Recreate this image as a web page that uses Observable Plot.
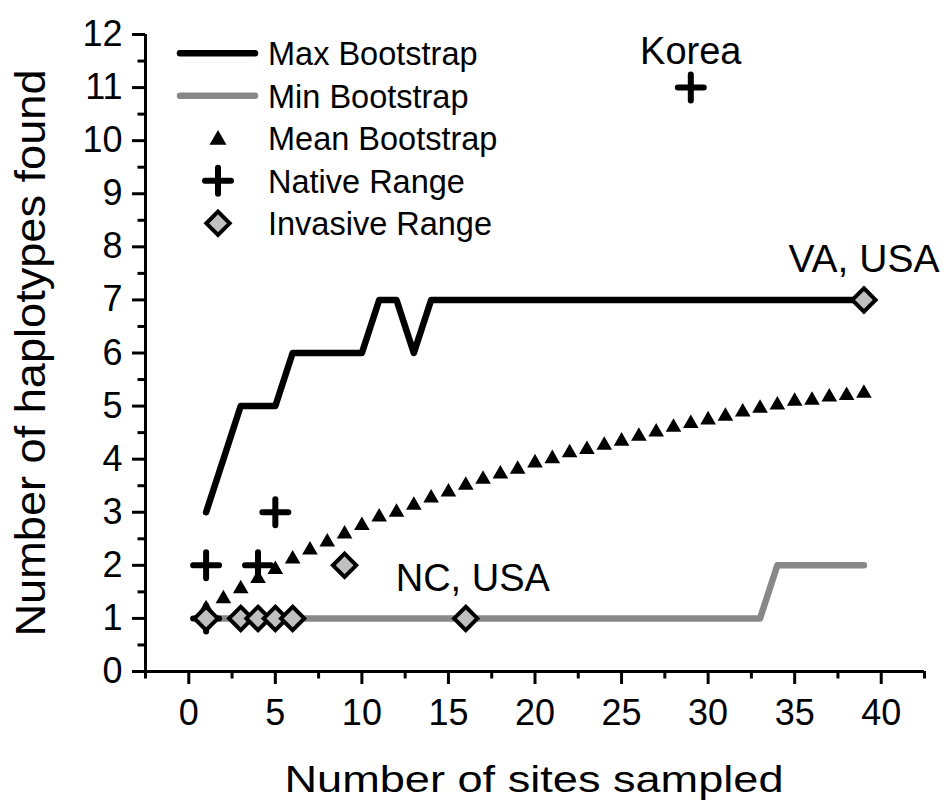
<!DOCTYPE html>
<html>
<head>
<meta charset="utf-8">
<script src="https://cdn.jsdelivr.net/npm/d3@7"></script>
<script src="https://cdn.jsdelivr.net/npm/@observablehq/plot@0.6"></script>
<style>
  html, body { margin: 0; padding: 0; background: #fff; }
  #chart { width: 946px; height: 804px; }
</style>
</head>
<body>
<div id="chart"></div>
<script>
// Number of sites sampled (bootstrap resampling sizes)
const sites = [1, 2, 3, 4, 5, 6, 7, 8, 9, 10, 11, 12, 13, 14, 15, 16, 17, 18, 19, 20,
               21, 22, 23, 24, 25, 26, 27, 28, 29, 30, 31, 32, 33, 34, 35, 36, 37, 38, 39];

// Haplotypes found per bootstrap draw
const maxBootstrap = [3, 4, 5, 5, 5, 6, 6, 6, 6, 6, 7, 7, 6, 7, 7, 7, 7, 7, 7, 7,
                      7, 7, 7, 7, 7, 7, 7, 7, 7, 7, 7, 7, 7, 7, 7, 7, 7, 7, 7];
const minBootstrap = [1, 1, 1, 1, 1, 1, 1, 1, 1, 1, 1, 1, 1, 1, 1, 1, 1, 1, 1, 1,
                      1, 1, 1, 1, 1, 1, 1, 1, 1, 1, 1, 1, 1, 2, 2, 2, 2, 2, 2];
const meanBootstrap = [1.18, 1.37, 1.56, 1.75, 1.92, 2.12, 2.29, 2.44, 2.59, 2.75,
                       2.91, 3.00, 3.13, 3.27, 3.38, 3.51, 3.62, 3.72, 3.81, 3.93,
                       4.01, 4.12, 4.18, 4.26, 4.34, 4.43, 4.51, 4.60, 4.67, 4.74,
                       4.81, 4.89, 4.96, 5.02, 5.09, 5.11, 5.17, 5.20, 5.24];

// Observed populations
const nativeSites = [1, 1, 4, 5, 29];
const nativeHaplotypes = [1, 2, 2, 3, 11];
const invasiveSites = [1, 3, 4, 5, 6, 16, 9, 39];
const invasiveHaplotypes = [1, 1, 1, 1, 1, 1, 2, 7];

// Named populations
const placeNames = ["Korea", "VA, USA", "NC, USA"];
const placeSites = [29, 39, 16];
const placeHaplotypes = [11, 7, 1];

// Axis ticks
const xTicks = [0, 5, 10, 15, 20, 25, 30, 35, 40];
const xMinorTicks = [-2.5, 2.5, 7.5, 12.5, 17.5, 22.5, 27.5, 32.5, 37.5, 42.5];
const yTicks = [0, 1, 2, 3, 4, 5, 6, 7, 8, 9, 10, 11, 12];
const yMinorTicks = [0.5, 1.5, 2.5, 3.5, 4.5, 5.5, 6.5, 7.5, 8.5, 9.5, 10.5, 11.5];

const legendLabels = ["Max Bootstrap", "Min Bootstrap", "Mean Bootstrap", "Native Range", "Invasive Range"];

// ---- layout & styling ----
const FONT = "'Liberation Sans', Arial, Helvetica, sans-serif";
const W = 946, H = 804;
const M = {left: 145, right: 22, top: 34, bottom: 133};
const X_DOMAIN = [-2.5, 42.5], Y_DOMAIN = [0, 12];
const GRAY_LINE = "#888888";
const DIAMOND_FILL = "#c0c0c0";
const LINE_W = 6.5, AXIS_W = 3;
const TRI_R = 5.8, PLUS_R = 8.4, DIAMOND_R = 10.5;
const PLUS_W = 6, DIAMOND_W = 4;
const MAJOR_LEN = 13, MINOR_LEN = 7.5;   // tick lengths in px
const placeOffsets = [
  {dx: 0, dy: -36, fontSize: 38},
  {dx: 0, dy: -40, fontSize: 39},
  {dx: 7, dy: -40, fontSize: 38}
];

// px per data unit, used to express outward tick lengths along each axis
const xUnit = (W - M.left - M.right) / (X_DOMAIN[1] - X_DOMAIN[0]);
const yUnit = (H - M.top - M.bottom) / (Y_DOMAIN[1] - Y_DOMAIN[0]);
const x0 = X_DOMAIN[0], y0 = Y_DOMAIN[0];

const series = (ys) => ys.map((y, i) => ({x: sites[i], y}));
const maxData = series(maxBootstrap);
const minData = series(minBootstrap);
const meanData = series(meanBootstrap);
const nativeData = nativeSites.map((x, i) => ({x, y: nativeHaplotypes[i]}));
const invasiveData = invasiveSites.map((x, i) => ({x, y: invasiveHaplotypes[i]}));
const placeData = placeNames.map((name, i) => ({name, x: placeSites[i], y: placeHaplotypes[i]}));

const chart = Plot.plot({
  width: W,
  height: H,
  marginLeft: M.left,
  marginRight: M.right,
  marginTop: M.top,
  marginBottom: M.bottom,
  x: {domain: X_DOMAIN, axis: null},
  y: {domain: Y_DOMAIN, axis: null},
  style: {fontFamily: FONT, background: "white", color: "black", overflow: "visible"},
  marks: [
    // axis lines
    Plot.ruleY([y0], {x1: X_DOMAIN[0], x2: X_DOMAIN[1], stroke: "black", strokeWidth: AXIS_W}),
    Plot.ruleX([x0], {y1: Y_DOMAIN[0], y2: Y_DOMAIN[1], stroke: "black", strokeWidth: AXIS_W}),
    // x ticks (outward, below the axis)
    Plot.ruleX(xMinorTicks, {x: d => d, y1: y0, y2: y0 - MINOR_LEN / yUnit, stroke: "black", strokeWidth: AXIS_W}),
    Plot.ruleX(xTicks, {x: d => d, y1: y0, y2: y0 - MAJOR_LEN / yUnit, stroke: "black", strokeWidth: AXIS_W}),
    Plot.text(xTicks, {x: d => d, y: y0, text: d => String(d), dy: 42, fontSize: 36, fill: "black"}),
    // y ticks (outward, left of the axis)
    Plot.ruleY(yMinorTicks, {y: d => d, x1: x0, x2: x0 - MINOR_LEN / xUnit, stroke: "black", strokeWidth: AXIS_W}),
    Plot.ruleY(yTicks, {y: d => d, x1: x0, x2: x0 - MAJOR_LEN / xUnit, stroke: "black", strokeWidth: AXIS_W}),
    Plot.text(yTicks, {x: x0, y: d => d, text: d => String(d), dx: -23, textAnchor: "end", fontSize: 36, fill: "black"}),
    // bootstrap curves
    Plot.line(minData, {x: "x", y: "y", stroke: GRAY_LINE, strokeWidth: LINE_W,
      strokeLinejoin: "round", strokeLinecap: "round"}),
    Plot.line(maxData, {x: "x", y: "y", stroke: "black", strokeWidth: LINE_W,
      strokeLinejoin: "round", strokeLinecap: "round"}),
    Plot.dot(meanData, {x: "x", y: "y", symbol: "triangle", r: TRI_R, fill: "black", stroke: "none"}),
    // observed ranges
    Plot.dot(nativeData, {x: "x", y: "y", symbol: "plus", r: PLUS_R, stroke: "black",
      strokeWidth: PLUS_W, strokeLinecap: "round"}),
    Plot.dot(invasiveData, {x: "x", y: "y", symbol: "diamond2", r: DIAMOND_R, fill: DIAMOND_FILL,
      stroke: "black", strokeWidth: DIAMOND_W}),
    // population names
    ...placeData.map((d, i) => Plot.text([d], {
      x: "x", y: "y", text: "name", textAnchor: "middle",
      dx: placeOffsets[i].dx, dy: placeOffsets[i].dy, fontSize: placeOffsets[i].fontSize, fill: "black"
    }))
  ]
});

const svg = d3.select(chart);

// axis titles
svg.append("text")
  .attr("transform", "translate(534,792)")
  .attr("text-anchor", "middle")
  .attr("font-family", FONT)
  .attr("font-size", 37)
  .attr("textLength", 499)
  .attr("lengthAdjust", "spacingAndGlyphs")
  .attr("fill", "black")
  .text("Number of sites sampled");

svg.append("text")
  .attr("transform", "translate(45,353) rotate(-90)")
  .attr("text-anchor", "middle")
  .attr("font-family", FONT)
  .attr("font-size", 42)
  .attr("textLength", 567)
  .attr("lengthAdjust", "spacingAndGlyphs")
  .attr("fill", "black")
  .text("Number of haplotypes found");

// legend inside the plot area
const legend = svg.append("g")
  .attr("font-family", FONT)
  .attr("font-size", 32.5)
  .attr("text-anchor", "start");
const legendTop = 53.3, legendStep = 42.5, swatchX = 218, textX = 268;
const sym = (type, r) => d3.symbol(type, Math.PI * r * r)();
legendLabels.forEach((label, i) => {
  const cy = legendTop + i * legendStep;
  const g = legend.append("g");
  if (i === 0 || i === 1) {
    g.append("line")
      .attr("x1", 180).attr("x2", 255).attr("y1", cy).attr("y2", cy)
      .attr("stroke", i === 0 ? "black" : GRAY_LINE)
      .attr("stroke-width", LINE_W).attr("stroke-linecap", "round");
  } else if (i === 2) {
    g.append("path").attr("d", sym(d3.symbolTriangle, 6.3))
      .attr("transform", `translate(${swatchX},${cy + 1.5})`).attr("fill", "black");
  } else if (i === 3) {
    g.append("path").attr("d", sym(d3.symbolPlus, PLUS_R))
      .attr("transform", `translate(${swatchX},${cy})`)
      .attr("fill", "none").attr("stroke", "black").attr("stroke-width", PLUS_W).attr("stroke-linecap", "round");
  } else {
    g.append("path").attr("d", sym(d3.symbolDiamond2, DIAMOND_R))
      .attr("transform", `translate(${swatchX},${cy})`)
      .attr("fill", DIAMOND_FILL).attr("stroke", "black").attr("stroke-width", DIAMOND_W);
  }
  g.append("text").attr("x", textX).attr("y", cy).attr("dy", "0.36em")
    .attr("fill", "black").text(label);
});

document.getElementById("chart").appendChild(chart);
</script>
</body>
</html>
